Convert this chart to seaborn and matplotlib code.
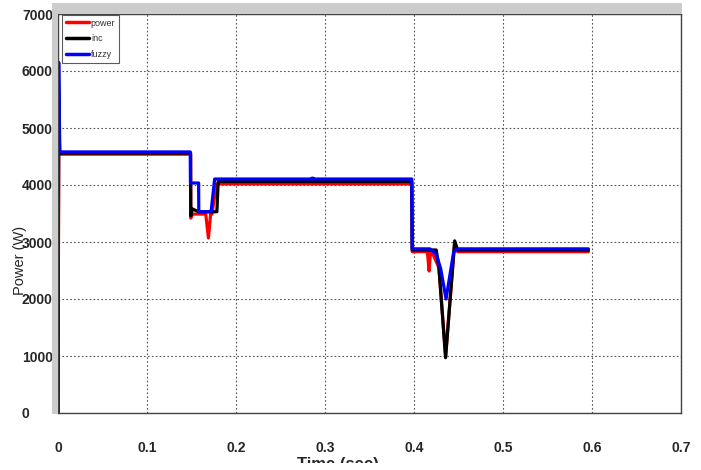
import matplotlib
matplotlib.use("Agg")
import matplotlib.pyplot as plt
import seaborn as sns
import pandas as pd
from matplotlib.patches import Rectangle

# ---- data ----
power_t = [0, 0.0008, 0.149, 0.1492, 0.151, 0.166, 0.169, 0.1715, 0.173, 0.178,
           0.3975, 0.398, 0.415, 0.417, 0.4185, 0.420, 0.428, 0.4355, 0.4455, 0.449, 0.596]
power_p = [0, 4540, 4540, 3420, 3490, 3490, 3070, 3490, 3490, 4020,
           4020, 2830, 2830, 2490, 2830, 2830, 2550, 1000, 2950, 2830, 2830]

inc_t = [0, 0.0008, 0.002, 0.149, 0.1492, 0.151, 0.158, 0.1785, 0.180,
         0.3975, 0.398, 0.425, 0.428, 0.4355, 0.4457, 0.449, 0.596]
inc_p = [0, 5200, 4560, 4560, 3460, 3580, 3530, 3530, 4060,
         4060, 2860, 2860, 2550, 970, 3020, 2860, 2860]

fuzzy_t = [0, 0.0008, 0.002, 0.1486, 0.1488, 0.158, 0.1582, 0.172, 0.176,
           0.285, 0.2855, 0.2865, 0.287, 0.3975, 0.398, 0.418, 0.425, 0.430,
           0.436, 0.4445, 0.448, 0.596]
fuzzy_p = [0, 6150, 4580, 4580, 4035, 4035, 3530, 3530, 4105,
           4105, 4120, 4120, 4105, 4105, 2880, 2880, 2790, 2530,
           2000, 2820, 2880, 2880]

series_names = ["power", "inc", "fuzzy"]
series_colors = ["#ff0000", "#000000", "#0000ff"]
x_ticks = [0, 0.1, 0.2, 0.3, 0.4, 0.5, 0.6, 0.7]
y_ticks = [0, 1000, 2000, 3000, 4000, 5000, 6000, 7000]

frames = []
for name, t, p in zip(series_names, [power_t, inc_t, fuzzy_t], [power_p, inc_p, fuzzy_p]):
    d = pd.DataFrame({"t": t, "P": p})
    d["series"] = name
    frames.append(d)
df = pd.concat(frames, ignore_index=True)

sns.set_style("white")
plt.rcParams["font.family"] = ["Liberation Sans Narrow", "Liberation Sans", "DejaVu Sans"]

W, H = 701, 470
fig = plt.figure(figsize=(W / 100, H / 100), dpi=100)
fig.patch.set_facecolor("white")

# grey MATLAB-like strip around the axes (top and left)
fig.patches.append(Rectangle((52 / W, 1 - 414 / H), 6 / W, 411 / H, transform=fig.transFigure,
                             facecolor="#cccccc", edgecolor="none", zorder=0))
fig.patches.append(Rectangle((52 / W, 1 - 14 / H), 630 / W, 11 / H, transform=fig.transFigure,
                             facecolor="#cccccc", edgecolor="none", zorder=0))

ax = fig.add_axes([58 / W, 1 - 413 / H, 623 / W, 399 / H])
sns.lineplot(data=df, x="t", y="P", hue="series", hue_order=series_names,
             palette=series_colors, estimator=None, sort=False, units="series",
             linewidth=2.3, ax=ax, legend=True)

ax.set_xlim(0, 0.7)
ax.set_ylim(0, 7000)
ax.set_xticks(x_ticks)
ax.set_yticks(y_ticks)
ax.set_xticklabels(["0" if v == 0 else f"{v:g}" for v in x_ticks], fontsize=10, fontweight="bold")
ax.set_yticklabels([f"{v:d}" for v in y_ticks], fontsize=10, fontweight="bold", ha="left")
ax.tick_params(axis="y", direction="in", length=3, pad=26, color="#444444")
ax.tick_params(axis="x", direction="in", length=3, pad=20, color="#444444")
ax.grid(True, linestyle=(0, (1.5, 2)), color="#555555", linewidth=0.8)
for s in ax.spines.values():
    s.set_color("#444444")
    s.set_linewidth(1.0)

ax.set_xlabel("Time (sec)", fontsize=12, fontweight="bold")
ax.xaxis.set_label_coords((338 - 58) / 623, -(457 - 413) / 399)
ax.xaxis.label.set_va("top")
ax.set_ylabel("Power (W)", fontsize=10.5, family=["Liberation Sans", "DejaVu Sans"])
ax.yaxis.set_label_coords(-(58 - 27) / 623, (413 - 260) / 399)

leg = ax.legend(loc="upper left", fontsize=6.5, handlelength=2.6, frameon=True,
                fancybox=False, borderpad=0.4, labelspacing=0.75, handletextpad=0.2,
                borderaxespad=0, bbox_to_anchor=(4 / 623, 1 - 1 / 399))
leg.get_frame().set_edgecolor("#333333")
leg.get_frame().set_linewidth(0.8)
for text in leg.get_texts():
    text.set_color("#333333")
for line in leg.get_lines():
    line.set_linewidth(2.5)

# bottom of the picture cut off (xlabel partly hidden)
fig.patches.append(Rectangle((0, 0), 1, 7 / H, transform=fig.transFigure,
                             facecolor="white", edgecolor="none", zorder=10))

fig.savefig("out.png", dpi=100)
